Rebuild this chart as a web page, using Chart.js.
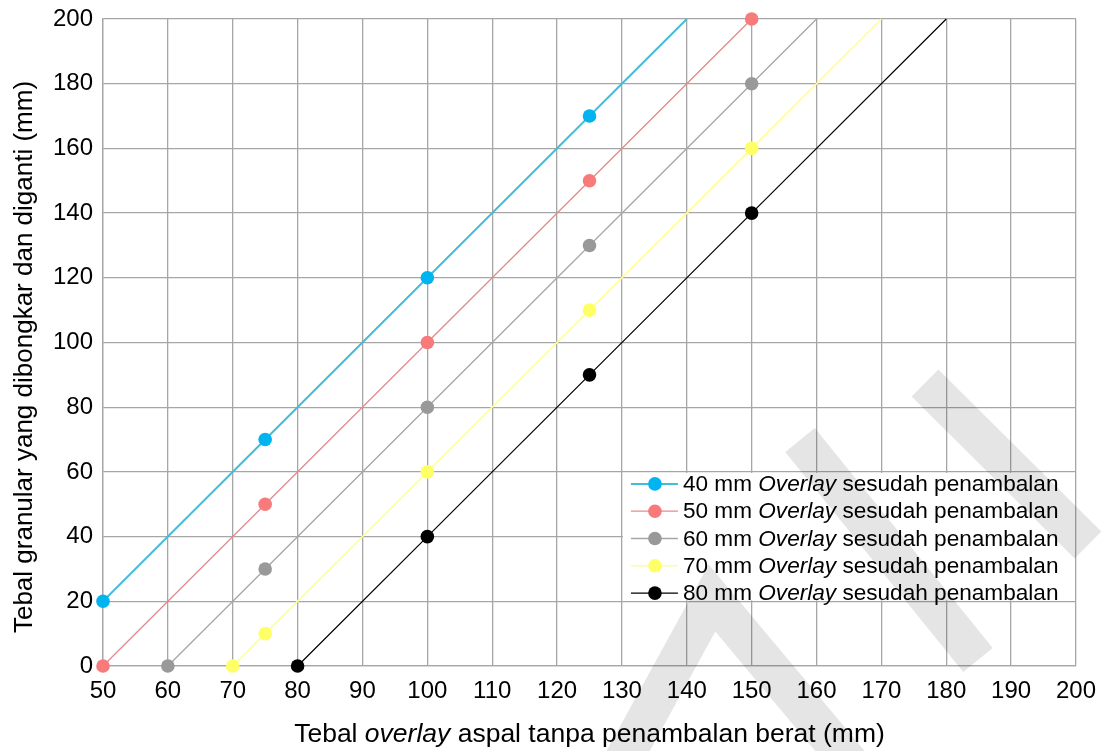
<!DOCTYPE html>
<html><head><meta charset="utf-8">
<script src="https://cdn.jsdelivr.net/npm/chart.js@4.4.0/dist/chart.umd.min.js"></script>
<style>html,body{margin:0;padding:0;background:#fff}#wrap{width:1108px;height:751px}</style>
</head><body><div id="wrap"><canvas id="c" width="1108" height="751"></canvas></div>
<script>
// ---- data ----
const seriesNames = ['40 mm', '50 mm', '60 mm', '70 mm', '80 mm'];
const x40 = [50, 75, 100, 125],       y40 = [20, 70, 120, 170],      end40 = [140, 200];
const x50 = [50, 75, 100, 125, 150],  y50 = [0, 50, 100, 150, 200],  end50 = null;
const x60 = [60, 75, 100, 125, 150],  y60 = [0, 30, 80, 130, 180],   end60 = [160, 200];
const x70 = [70, 75, 100, 125, 150],  y70 = [0, 10, 60, 110, 160],   end70 = [170, 200];
const x80 = [80, 100, 125, 150],      y80 = [0, 40, 90, 140],        end80 = [180, 200];
const xMin = 50, xMax = 200, xStep = 10;
const yMin = 0, yMax = 200, yStep = 20;
const xTitleParts = [['Tebal ', false], ['overlay', true], [' aspal tanpa penambalan berat (mm)', false]];
const yTitle = 'Tebal granular yang dibongkar dan diganti (mm)';
const legendParts = [[' mm ', false], ['Overlay', true], [' sesudah penambalan', false]];

const markerColors = ['#00b4f0', '#f77b7b', '#999999', '#ffff66', '#000000'];
const lineColors = ['#45bcd9', '#e08c8c', '#a6a6a6', '#ffff99', '#000000'];
const lineWidths = [2, 1.3, 1.3, 1.6, 1.2];
const FONT = '"Liberation Sans", Arial, sans-serif';

function build(xs, ys, end) {
  const pts = xs.map((x, i) => ({x: x, y: ys[i]}));
  if (end) pts.push({x: end[0], y: end[1]});
  return pts;
}
const raw = [[x40, y40, end40], [x50, y50, end50], [x60, y60, end60], [x70, y70, end70], [x80, y80, end80]];
const datasets = raw.map((r, i) => {
  const n = r[0].length;
  return {
    label: seriesNames[i],
    data: build(r[0], r[1], r[2]),
    borderColor: lineColors[i],
    backgroundColor: markerColors[i],
    pointBackgroundColor: markerColors[i],
    pointBorderColor: markerColors[i],
    pointBorderWidth: 0,
    borderWidth: lineWidths[i],
    pointRadius: ctx => ctx.dataIndex < n ? 6.8 : 0,
    pointHoverRadius: ctx => ctx.dataIndex < n ? 6.8 : 0,
    tension: 0,
    clip: false
  };
});

const legendPlugin = {
  id: 'inLegend',
  afterDatasetsDraw(chart) {
    const c = chart.ctx, xs = chart.scales.x, ys = chart.scales.y;
    const left = xs.getPixelForValue(130) + 1, right = chart.chartArea.right - 1;
    const top = ys.getPixelForValue(60) + 1, bottom = ys.getPixelForValue(20) - 1;
    c.save();
    c.fillStyle = '#fff';
    c.fillRect(left, top, right - left, bottom - top);
    const rowH = 27.3, y0 = top + 11;
    datasets.forEach((d, i) => {
      const cy = y0 + i * rowH;
      c.strokeStyle = lineColors[i]; c.lineWidth = lineWidths[i];
      c.beginPath(); c.moveTo(left + 8, cy); c.lineTo(left + 55, cy); c.stroke();
      c.fillStyle = markerColors[i];
      c.beginPath(); c.arc(left + 32, cy, 6.8, 0, Math.PI * 2); c.fill();
      let tx = left + 60;
      c.fillStyle = '#000'; c.textBaseline = 'middle'; c.textAlign = 'left';
      const parts = [[d.label.replace(' mm', ''), false]].concat(legendParts);
      parts.forEach(p => {
        c.font = (p[1] ? 'italic ' : '') + '22.6px ' + FONT;
        c.fillText(p[0], tx, cy + 1);
        tx += c.measureText(p[0]).width;
      });
    });
    c.restore();
  },
  afterDraw(chart) {
    const c = chart.ctx, a = chart.chartArea;
    c.save();
    c.fillStyle = '#000'; c.textBaseline = 'middle';
    // x title
    const xs = 26.5;
    let total = 0;
    xTitleParts.forEach(p => { c.font = (p[1] ? 'italic ' : '') + xs + 'px ' + FONT; total += c.measureText(p[0]).width; });
    let tx = (a.left + a.right) / 2 - total / 2;
    xTitleParts.forEach(p => {
      c.font = (p[1] ? 'italic ' : '') + xs + 'px ' + FONT;
      c.textAlign = 'left';
      c.fillText(p[0], tx, 735);
      tx += c.measureText(p[0]).width;
    });
    // y title
    c.translate(25, 357);
    c.rotate(-Math.PI / 2);
    c.font = '26px ' + FONT; c.textAlign = 'center';
    c.fillText(yTitle, 0, 0);
    c.restore();
    // watermark bands
    c.save();
    c.strokeStyle = 'rgba(0,0,0,0.10)';
    c.lineWidth = 38; c.lineCap = 'butt'; c.lineJoin = 'miter';
    const bands = [
      [[615, 775], [712, 598], [860, 775]],
      [[925, 383], [1088, 545]],
      [[800, 440], [978, 660]]
    ];
    bands.forEach(b => {
      c.beginPath(); c.moveTo(b[0][0], b[0][1]);
      for (let k = 1; k < b.length; k++) c.lineTo(b[k][0], b[k][1]);
      c.stroke();
    });
    c.restore();
  }
};

new Chart(document.getElementById('c'), {
  type: 'line',
  data: {datasets: datasets},
  options: {
    responsive: false, animation: false, devicePixelRatio: 1,
    layout: {padding: {top: 19, right: 32, left: 0, bottom: 0}},
    plugins: {legend: {display: false}, tooltip: {enabled: false}},
    scales: {
      x: {
        type: 'linear', min: xMin, max: xMax,
        ticks: {stepSize: xStep, color: '#000', font: {family: FONT, size: 24}, padding: 11, maxRotation: 0, autoSkip: false},
        grid: {color: '#a6a6a6', lineWidth: 1.3, drawTicks: false},
        border: {color: '#a6a6a6', width: 1.3},
        afterFit: s => { s.height = 85; s.paddingLeft = 0; s.paddingRight = 0; }
      },
      y: {
        type: 'linear', min: yMin, max: yMax,
        ticks: {stepSize: yStep, color: '#000', font: {family: FONT, size: 24}, padding: 10},
        grid: {color: '#a6a6a6', lineWidth: 1.3, drawTicks: false},
        border: {color: '#a6a6a6', width: 1.3},
        afterFit: s => { s.width = 103; s.paddingTop = 0; s.paddingBottom = 0; }
      }
    }
  },
  plugins: [legendPlugin]
});
</script></body></html>
